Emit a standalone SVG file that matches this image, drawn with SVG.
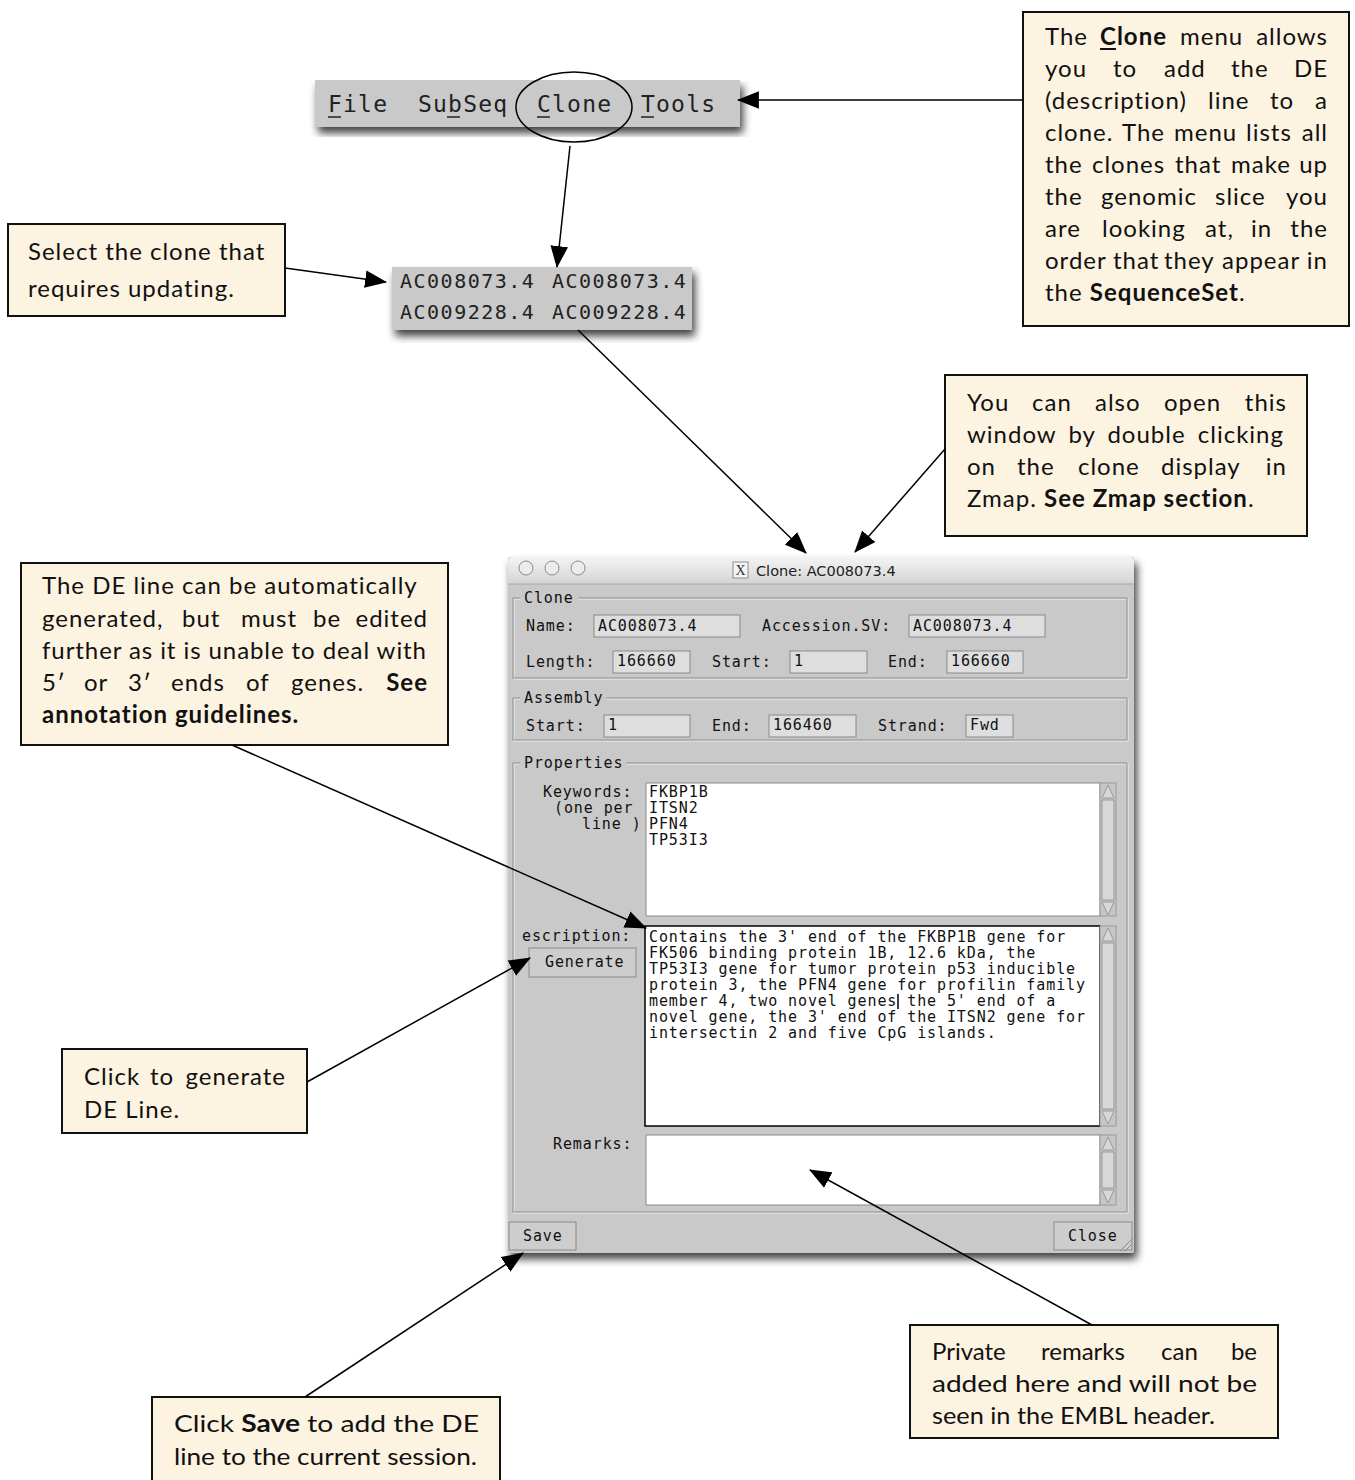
<svg xmlns="http://www.w3.org/2000/svg" width="1355" height="1480" viewBox="0 0 1355 1480">
  <defs>
    <style>
      .note { fill: #fdf3e1; stroke: #111; stroke-width: 2; }
      .nt { font-family: Lato, "Noto Sans", sans-serif; font-size: 24px; letter-spacing: 1px; fill: #111; }
      .tight { letter-spacing: 0; }
      .b { font-weight: bold; }
      .e { text-anchor: end; }
      .ui { font-family: "DejaVu Sans Mono", "Liberation Mono", monospace; font-size: 15px; letter-spacing: 0.9px; fill: #111; }
      .menu { font-family: "DejaVu Sans Mono", "Liberation Mono", monospace; font-size: 23px; letter-spacing: 1.2px; fill: #222; }
      .list { font-family: "DejaVu Sans Mono", "Liberation Mono", monospace; font-size: 20px; letter-spacing: 1.5px; fill: #222; }
      .panel { fill: #c9c9c9; }
      .field { fill: #dedede; stroke: #8a8a8a; stroke-width: 1; }
      .etch { fill: none; stroke: #8e8e8e; stroke-width: 1; }
      .etch2 { fill: none; stroke: #f2f2f2; stroke-width: 1; }
      .box { fill: #fff; stroke: #8a8a8a; stroke-width: 1; }
      .btn { fill: #cdcdcd; stroke: #8a8a8a; stroke-width: 1; }
      .sb { fill: #c6c6c6; stroke: #9a9a9a; stroke-width: 1; }
      .tri { fill: #d8d8d8; stroke: #9a9a9a; stroke-width: 1; }
      .link { stroke: #000; stroke-width: 1.5; fill: none; marker-end: url(#head); }
    </style>
    <marker id="head" viewBox="0 0 20 16" refX="19" refY="8" markerWidth="22" markerHeight="18" markerUnits="userSpaceOnUse" orient="auto">
      <path d="M0,0 L20,8 L0,16 Z" fill="#000"/>
    </marker>
    <filter id="shadow" x="-10%" y="-10%" width="125%" height="130%">
      <feGaussianBlur in="SourceAlpha" stdDeviation="4"/>
      <feOffset dx="3" dy="6" result="blur"/>
      <feComponentTransfer><feFuncA type="linear" slope="0.75"/></feComponentTransfer>
      <feMerge><feMergeNode/><feMergeNode in="SourceGraphic"/></feMerge>
    </filter>
    <linearGradient id="titlebar" x1="0" y1="0" x2="0" y2="1">
      <stop offset="0" stop-color="#f4f4f4"/>
      <stop offset="1" stop-color="#d4d4d4"/>
    </linearGradient>
  </defs>

  <rect width="1355" height="1480" fill="#fff"/>

  <!-- menu bar -->
  <g id="menu-bar">
    <rect class="panel" x="315" y="80" width="425" height="47" filter="url(#shadow)"/>
    <text class="menu" x="328" y="112">File</text>
    <text class="menu" x="418" y="112">SubSeq</text>
    <text class="menu" x="537" y="112">Clone</text>
    <text class="menu" x="641" y="112">Tools</text>
    <g stroke="#222" stroke-width="1.5">
      <line x1="328" y1="117" x2="341" y2="117"/>
      <line x1="447" y1="117" x2="460" y2="117"/>
      <line x1="537" y1="117" x2="550" y2="117"/>
      <line x1="641" y1="117" x2="654" y2="117"/>
    </g>
    <ellipse cx="574" cy="107" rx="58" ry="35" fill="none" stroke="#000" stroke-width="1.5"/>
  </g>

  <!-- clone list popup -->
  <g id="clone-list">
    <rect class="panel" x="392" y="267" width="300" height="63" filter="url(#shadow)"/>
    <text class="list" x="400" y="288">AC008073.4</text>
    <text class="list" x="552" y="288">AC008073.4</text>
    <text class="list" x="400" y="319">AC009228.4</text>
    <text class="list" x="552" y="319">AC009228.4</text>
  </g>

  <!-- clone dialog window -->
  <g id="clone-window">
    <rect class="panel" x="508" y="557" width="626" height="696" rx="3" filter="url(#shadow)"/>
    <path d="M508,584 V562 Q508,557 513,557 H1129 Q1134,557 1134,562 V584 Z" fill="url(#titlebar)"/>
    <line x1="508" y1="584" x2="1134" y2="584" stroke="#a8a8a8"/>
    <g fill="#ececec" stroke="#8a8a8a" stroke-width="1">
      <circle cx="526" cy="568" r="7"/>
      <circle cx="552" cy="568" r="7"/>
      <circle cx="578" cy="568" r="7"/>
    </g>
    <rect x="733" y="562" width="15" height="16" fill="#f4f4f4" stroke="#777" stroke-width="0.8"/>
    <text x="740.5" y="575" text-anchor="middle" font-family="'Liberation Serif', serif" font-size="14" fill="#333">X</text>
    <text x="756" y="576" font-family="'DejaVu Sans', sans-serif" font-size="14.5" fill="#222">Clone: AC008073.4</text>

    <!-- Clone frame -->
    <rect class="etch2" x="514" y="599" width="614" height="80"/>
    <rect class="etch" x="513" y="598" width="614" height="80"/>
    <rect class="panel" x="520" y="590" width="58" height="16"/>
    <text class="ui" x="524" y="603">Clone</text>
    <text class="ui" x="526" y="631">Name:</text>
    <rect class="field" x="594" y="615" width="146" height="22"/>
    <text class="ui" x="598" y="631">AC008073.4</text>
    <text class="ui" x="762" y="631">Accession.SV:</text>
    <rect class="field" x="909" y="615" width="136" height="22"/>
    <text class="ui" x="913" y="631">AC008073.4</text>
    <text class="ui" x="526" y="667">Length:</text>
    <rect class="field" x="613" y="651" width="77" height="22"/>
    <text class="ui" x="617" y="666">166660</text>
    <text class="ui" x="712" y="667">Start:</text>
    <rect class="field" x="790" y="651" width="77" height="22"/>
    <text class="ui" x="794" y="666">1</text>
    <text class="ui" x="888" y="667">End:</text>
    <rect class="field" x="947" y="651" width="76" height="22"/>
    <text class="ui" x="951" y="666">166660</text>

    <!-- Assembly frame -->
    <rect class="etch2" x="514" y="699" width="614" height="42"/>
    <rect class="etch" x="513" y="698" width="614" height="42"/>
    <rect class="panel" x="520" y="690" width="86" height="16"/>
    <text class="ui" x="524" y="703">Assembly</text>
    <text class="ui" x="526" y="731">Start:</text>
    <rect class="field" x="604" y="715" width="86" height="22"/>
    <text class="ui" x="608" y="730">1</text>
    <text class="ui" x="712" y="731">End:</text>
    <rect class="field" x="769" y="715" width="87" height="22"/>
    <text class="ui" x="773" y="730">166460</text>
    <text class="ui" x="878" y="731">Strand:</text>
    <rect class="field" x="966" y="715" width="47" height="22"/>
    <text class="ui" x="970" y="730">Fwd</text>

    <!-- Properties frame -->
    <rect class="etch2" x="514" y="764" width="614" height="449"/>
    <rect class="etch" x="513" y="763" width="614" height="449"/>
    <rect class="panel" x="520" y="755" width="106" height="16"/>
    <text class="ui" x="524" y="768">Properties</text>

    <text class="ui" x="543" y="797">Keywords:</text>
    <text class="ui" x="554" y="813">(one per</text>
    <text class="ui" x="582" y="829">line )</text>
    <rect class="box" x="646" y="783" width="454" height="133"/>
    <text class="ui" x="649" y="797">FKBP1B</text>
    <text class="ui" x="649" y="813">ITSN2</text>
    <text class="ui" x="649" y="829">PFN4</text>
    <text class="ui" x="649" y="845">TP53I3</text>
    <rect class="sb" x="1100" y="783" width="16" height="133"/>
    <path class="tri" d="M1102,798 L1108,785 L1114,798 Z"/>
    <rect class="tri" x="1102" y="800" width="12" height="100"/>
    <path class="tri" d="M1102,902 L1108,915 L1114,902 Z"/>

    <text class="ui" x="522" y="941">escription:</text>
    <rect class="btn" x="529" y="948" width="107" height="29"/>
    <text class="ui" x="545" y="967">Generate</text>
    <rect x="645" y="926" width="455" height="200" fill="#fff" stroke="#000" stroke-width="1.5"/>
    <g class="ui">
      <text x="649" y="942">Contains the 3' end of the FKBP1B gene for</text>
      <text x="649" y="958">FK506 binding protein 1B, 12.6 kDa, the</text>
      <text x="649" y="974">TP53I3 gene for tumor protein p53 inducible</text>
      <text x="649" y="990">protein 3, the PFN4 gene for profilin family</text>
      <text x="649" y="1006">member 4, two novel genes the 5' end of a</text>
      <text x="649" y="1022">novel gene, the 3' end of the ITSN2 gene for</text>
      <text x="649" y="1038">intersectin 2 and five CpG islands.</text>
    </g>
    <line x1="898" y1="994" x2="898" y2="1009" stroke="#000" stroke-width="1.5"/>
    <rect class="sb" x="1100" y="926" width="16" height="200"/>
    <path class="tri" d="M1102,941 L1108,928 L1114,941 Z"/>
    <rect class="tri" x="1102" y="943" width="12" height="166"/>
    <path class="tri" d="M1102,1111 L1108,1124 L1114,1111 Z"/>

    <text class="ui" x="553" y="1149">Remarks:</text>
    <rect class="box" x="646" y="1135" width="454" height="70"/>
    <rect class="sb" x="1100" y="1135" width="16" height="70"/>
    <path class="tri" d="M1102,1150 L1108,1137 L1114,1150 Z"/>
    <rect class="tri" x="1102" y="1152" width="12" height="36"/>
    <path class="tri" d="M1102,1190 L1108,1203 L1114,1190 Z"/>

    <rect class="btn" x="509" y="1222" width="67" height="28"/>
    <text class="ui" x="523" y="1241">Save</text>
    <rect class="btn" x="1054" y="1222" width="78" height="28"/>
    <text class="ui" x="1068" y="1241">Close</text>
    <g stroke="#8a8a8a" stroke-width="1">
      <line x1="1120" y1="1251" x2="1132" y2="1239"/>
      <line x1="1125" y1="1251" x2="1132" y2="1244"/>
    </g>
  </g>

  <!-- callout: Clone menu -->
  <g id="note-clone-menu">
    <rect class="note" x="1023" y="12" width="326" height="314"/>
    <text class="nt" y="45"><tspan x="1045">The</tspan><tspan x="1100" class="b">Clone</tspan><tspan x="1180">menu</tspan><tspan x="1328" class="e">allows</tspan></text>
    <line x1="1100" y1="49" x2="1116" y2="49" stroke="#111" stroke-width="2"/>
    <text class="nt" y="77"><tspan x="1045">you</tspan><tspan x="1113">to</tspan><tspan x="1164">add</tspan><tspan x="1231">the</tspan><tspan x="1328" class="e">DE</tspan></text>
    <text class="nt" y="109"><tspan x="1045">(description)</tspan><tspan x="1208">line</tspan><tspan x="1270">to</tspan><tspan x="1328" class="e">a</tspan></text>
    <text class="nt" y="141"><tspan x="1045">clone.</tspan><tspan x="1122">The</tspan><tspan x="1174">menu</tspan><tspan x="1246">lists</tspan><tspan x="1328" class="e">all</tspan></text>
    <text class="nt" y="173"><tspan x="1045">the</tspan><tspan x="1092">clones</tspan><tspan x="1175">that</tspan><tspan x="1231">make</tspan><tspan x="1328" class="e">up</tspan></text>
    <text class="nt" y="205"><tspan x="1045">the</tspan><tspan x="1101">genomic</tspan><tspan x="1215">slice</tspan><tspan x="1328" class="e">you</tspan></text>
    <text class="nt" y="237"><tspan x="1045">are</tspan><tspan x="1102">looking</tspan><tspan x="1205">at,</tspan><tspan x="1251">in</tspan><tspan x="1328" class="e">the</tspan></text>
    <text class="nt" y="269"><tspan x="1045">order</tspan><tspan x="1113">that</tspan><tspan x="1164">they</tspan><tspan x="1222">appear</tspan><tspan x="1328" class="e">in</tspan></text>
    <text class="nt" x="1045" y="301">the <tspan class="b">SequenceSet</tspan>.</text>
  </g>

  <!-- callout: select clone -->
  <g id="note-select">
    <rect class="note" x="8" y="224" width="277" height="92"/>
    <text class="nt" x="28" y="260">Select the clone that</text>
    <text class="nt" x="28" y="297">requires updating.</text>
  </g>

  <!-- callout: open from Zmap -->
  <g id="note-zmap">
    <rect class="note" x="945" y="375" width="362" height="161"/>
    <text class="nt" y="411"><tspan x="967">You</tspan><tspan x="1032">can</tspan><tspan x="1095">also</tspan><tspan x="1164">open</tspan><tspan x="1287" class="e">this</tspan></text>
    <text class="nt" x="967" y="443" word-spacing="5">window by double clicking</text>
    <text class="nt" y="475"><tspan x="967">on</tspan><tspan x="1017">the</tspan><tspan x="1078">clone</tspan><tspan x="1161">display</tspan><tspan x="1287" class="e">in</tspan></text>
    <text class="nt" x="967" y="507">Zmap. <tspan class="b">See Zmap section</tspan>.</text>
  </g>

  <!-- callout: DE line -->
  <g id="note-de-line">
    <rect class="note" x="21" y="563" width="427" height="182"/>
    <text class="nt" x="42" y="594">The DE line can be automatically</text>
    <text class="nt" y="627"><tspan x="42">generated,</tspan><tspan x="182">but</tspan><tspan x="241">must</tspan><tspan x="313">be</tspan><tspan x="428" class="e">edited</tspan></text>
    <text class="nt" x="42" y="659" textLength="385" lengthAdjust="spacing">further as it is unable to deal with</text>
    <text class="nt" y="691"><tspan x="42">5′</tspan><tspan x="84">or</tspan><tspan x="128">3′</tspan><tspan x="171">ends</tspan><tspan x="246">of</tspan><tspan x="291">genes.</tspan><tspan x="428" class="e b">See</tspan></text>
    <text class="nt b" x="42" y="723">annotation guidelines.</text>
  </g>

  <!-- callout: generate -->
  <g id="note-generate">
    <rect class="note" x="62" y="1049" width="245" height="84"/>
    <text class="nt" y="1085"><tspan x="84">Click</tspan><tspan x="150">to</tspan><tspan x="286" class="e">generate</tspan></text>
    <text class="nt" x="84" y="1118">DE Line.</text>
  </g>

  <!-- callout: save -->
  <g id="note-save">
    <rect class="note" x="152" y="1397" width="348" height="84"/>
    <text class="nt tight" x="174" y="1432" textLength="305" lengthAdjust="spacingAndGlyphs">Click <tspan class="b">Save</tspan> to add the DE</text>
    <text class="nt tight" x="174" y="1465" textLength="303" lengthAdjust="spacingAndGlyphs">line to the current session.</text>
  </g>

  <!-- callout: remarks -->
  <g id="note-remarks">
    <rect class="note" x="910" y="1325" width="368" height="113"/>
    <text class="nt tight" y="1360"><tspan x="932">Private</tspan><tspan x="1041">remarks</tspan><tspan x="1161">can</tspan><tspan x="1257" class="e">be</tspan></text>
    <text class="nt tight" x="932" y="1392" textLength="325" lengthAdjust="spacingAndGlyphs">added here and will not be</text>
    <text class="nt tight" x="932" y="1424" textLength="283" lengthAdjust="spacingAndGlyphs">seen in the EMBL header.</text>
  </g>

  <!-- connectors -->
  <g id="connectors">
    <line class="link" x1="1023" y1="100" x2="738" y2="100"/>
    <line class="link" x1="570" y1="146" x2="557" y2="267"/>
    <line class="link" x1="285" y1="268" x2="386" y2="282"/>
    <line class="link" x1="578" y1="330" x2="806" y2="553"/>
    <line class="link" x1="945" y1="449" x2="855" y2="552"/>
    <line class="link" x1="232" y1="745" x2="646" y2="928"/>
    <line class="link" x1="307" y1="1082" x2="530" y2="958"/>
    <line class="link" x1="305" y1="1397" x2="523" y2="1253"/>
    <line class="link" x1="1092" y1="1325" x2="810" y2="1170"/>
  </g>
</svg>
